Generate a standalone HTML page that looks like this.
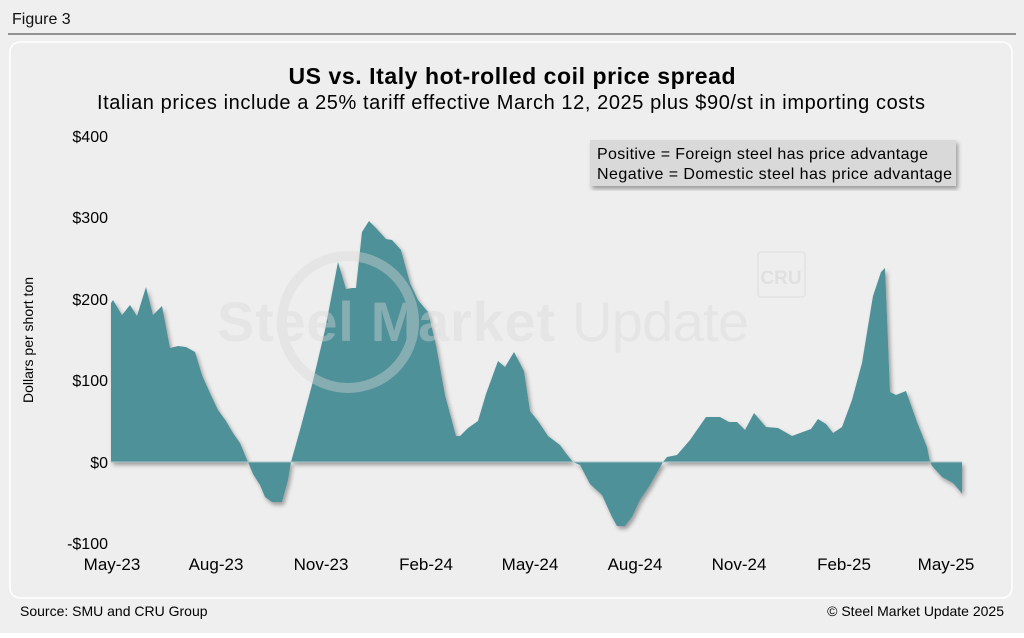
<!DOCTYPE html>
<html><head><style>
body{margin:0;background:#fff;width:1024px;height:633px;overflow:hidden;font-family:"Liberation Sans",sans-serif;}
</style></head><body>
<svg width="1024" height="633" xmlns="http://www.w3.org/2000/svg" font-family="Liberation Sans, sans-serif">
<defs>
<filter id="sh" x="-5%" y="-5%" width="110%" height="115%"><feDropShadow dx="2" dy="3" stdDeviation="2" flood-color="#000" flood-opacity="0.35"/></filter>
</defs>
<rect x="0" y="0" width="1024" height="633" fill="#efefef"/>
<text x="12" y="24" font-size="16" fill="#111">Figure 3</text>
<line x1="8" y1="34" x2="1016" y2="34" stroke="#333" stroke-width="1"/>
<rect x="10" y="42" width="1002" height="556" rx="10" fill="#eeeeee" stroke="#fff" stroke-width="1.5"/>
<text x="512" y="84" font-size="23" font-weight="bold" text-anchor="middle" fill="#000" textLength="447">US vs. Italy hot-rolled coil price spread</text>
<text x="511" y="109" font-size="20" text-anchor="middle" fill="#000" textLength="828">Italian prices include a 25% tariff effective March 12, 2025 plus $90/st in importing costs</text>
<g font-size="16" fill="#000" text-anchor="end">
<text x="108" y="142">$400</text>
<text x="108" y="223">$300</text>
<text x="108" y="305">$200</text>
<text x="108" y="386">$100</text>
<text x="108" y="468">$0</text>
<text x="108" y="549">-$100</text>
</g>
<text transform="translate(33,340) rotate(-90)" font-size="14" text-anchor="middle" fill="#000">Dollars per short ton</text>
<g font-size="17" fill="#000" text-anchor="middle">
<text x="112" y="570">May-23</text><text x="216" y="570">Aug-23</text><text x="321" y="570">Nov-23</text>
<text x="426" y="570">Feb-24</text><text x="530" y="570">May-24</text><text x="635" y="570">Aug-24</text>
<text x="739" y="570">Nov-24</text><text x="844" y="570">Feb-25</text><text x="946" y="570">May-25</text>
</g>
<polygon filter="url(#sh)" fill="#4f9199" points="111,462 111,303 113,300 122,315 130,305 137,316 146,287 153,315 162,306 170,348 178,346 186,347 195,352 202,375 210,393 218,410 226,421 233,433 240,443 248,462 253,474 260,485 265,497 272,502 282,502 288,480 291,462 300,430 312,385 325,330 338,262 346,289 352,288 356,288 362,232 369,221 376,228 386,239 392,240 401,250 410,283 418,300 428,312 436,345 445,395 456,436 460,436 468,428 478,421 486,394 498,361 505,367 514,352 524,371 530,411 538,421 548,436 560,445 565,452 573,462 580,465 590,484 602,495 612,517 617,526 625,526 632,517 640,500 650,485 663,462 667,457 677,455 690,440 706,417 720,417 729,422 737,422 745,430 754,413 766,427 778,428 792,436 800,433 811,429 818,419 826,424 833,433 842,427 852,400 862,363 873,296 881,272 885,268 890,392 896,395 906,391 917,422 927,447 930,462 932,466 942,477 953,483 960,491 962,494 962,462"/>
<line x1="111" y1="462" x2="962" y2="462" stroke="#a9c6ca" stroke-width="1"/>
<g opacity="0.4" fill="#d8d8d8">
<circle cx="348" cy="322" r="66" fill="none" stroke="#d8d8d8" stroke-width="10"/>
<text x="217" y="341" font-size="56" font-weight="bold" textLength="338">Steel Market</text>
<text x="572" y="341" font-size="56" textLength="177">Update</text>
</g>
<rect x="758" y="252" width="47" height="45" rx="3" fill="none" stroke="#e2e2e2" stroke-width="1.5"/>
<text x="781" y="284" font-size="19" font-weight="bold" fill="#e0e0e0" text-anchor="middle">CRU</text>
<rect x="590" y="140" width="366" height="46" fill="#d9d9d9" filter="url(#sh)"/>
<text x="597" y="159" font-size="16" fill="#000" textLength="331">Positive = Foreign steel has price advantage</text>
<text x="597" y="179" font-size="16" fill="#000" textLength="355">Negative = Domestic steel has price advantage</text>
<text x="20" y="616" font-size="14" fill="#000">Source: SMU and CRU Group</text>
<text x="1004" y="616" font-size="14" fill="#000" text-anchor="end">© Steel Market Update 2025</text>
</svg>
</body></html>
